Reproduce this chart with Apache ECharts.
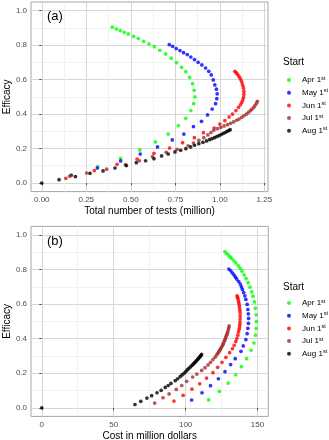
<!DOCTYPE html>
<html>
<head>
<meta charset="utf-8">
<script src="https://cdn.jsdelivr.net/npm/echarts@6/dist/echarts.min.js"></script>
<style>
  html, body { margin: 0; padding: 0; background: #fff; }
  #chart { width: 329px; height: 440px; }
</style>
</head>
<body>
<div id="chart"></div>
<script>
// series names (legend)
var startNames = ['Apr 1st', 'May 1st', 'Jun 1st', 'Jul 1st', 'Aug 1st'];
var startColors = ['#00ff00', '#0000ff', '#ff0000', '#a52a2a', '#000000'];

// Apr 1st
var aprEff = [0.046,0.095,0.143,0.191,0.238,0.284,0.333,0.375,0.420,0.460,0.499,0.538,0.576,0.613,0.646,0.671,0.698,0.724,0.749,0.770,0.791,0.807,0.822,0.838,0.851,0.865,0.874,0.884,0.894,0.904];
var aprTests = [0.168,0.314,0.443,0.551,0.638,0.710,0.767,0.809,0.837,0.853,0.860,0.856,0.847,0.830,0.809,0.785,0.757,0.727,0.696,0.663,0.632,0.602,0.572,0.542,0.516,0.486,0.463,0.441,0.419,0.396];
var aprCost = [116.0,123.5,129.6,134.8,138.8,142.4,145.5,147.5,148.6,149.1,149.2,149.0,148.5,147.8,146.9,146.0,144.8,143.5,142.0,140.7,139.2,138.0,136.6,135.0,133.6,132.0,130.9,129.7,128.5,127.3];

// May 1st
var mayEff = [0.045,0.087,0.128,0.168,0.209,0.250,0.284,0.327,0.358,0.395,0.429,0.460,0.489,0.517,0.544,0.569,0.598,0.627,0.648,0.667,0.685,0.700,0.716,0.731,0.745,0.756,0.768,0.780,0.793,0.803];
var mayTests = [0.164,0.312,0.443,0.553,0.650,0.733,0.798,0.852,0.897,0.931,0.957,0.976,0.983,0.985,0.981,0.972,0.963,0.952,0.938,0.920,0.899,0.878,0.858,0.837,0.817,0.796,0.776,0.755,0.735,0.716];
var mayCost = [104.2,111.4,117.3,122.8,127.4,131.3,134.5,138.5,140.1,141.9,142.8,143.3,143.7,143.8,143.6,143.3,142.8,141.9,141.2,140.4,139.5,138.8,138.0,136.9,135.6,134.7,133.7,132.6,131.4,130.1];

// Jun 1st
var junEff = [0.039,0.072,0.108,0.139,0.172,0.203,0.234,0.263,0.292,0.319,0.342,0.362,0.383,0.400,0.420,0.439,0.454,0.468,0.482,0.497,0.515,0.532,0.550,0.565,0.580,0.594,0.607,0.619,0.631,0.640,0.648];
var junTests = [0.157,0.295,0.423,0.535,0.630,0.718,0.791,0.857,0.908,0.968,1.000,1.028,1.052,1.071,1.090,1.105,1.116,1.123,1.129,1.133,1.135,1.135,1.133,1.129,1.125,1.120,1.114,1.107,1.099,1.092,1.084];
var junCost = [91.9,98.3,104.4,109.8,114.6,119.0,122.3,125.3,128.0,130.6,132.6,133.8,134.9,135.6,136.3,136.8,137.2,137.5,137.7,137.8,137.9,137.9,137.9,137.7,137.5,137.3,137.0,136.8,136.4,136.1,135.8];

// Jul 1st
var julEff = [0.027,0.058,0.080,0.106,0.129,0.153,0.178,0.195,0.216,0.232,0.248,0.263,0.279,0.293,0.306,0.315,0.323,0.331,0.338,0.346,0.354,0.364,0.371,0.381,0.391,0.400,0.410,0.420,0.429,0.439,0.451,0.463,0.474];
var julTests = [0.135,0.252,0.364,0.470,0.548,0.622,0.699,0.760,0.822,0.852,0.882,0.910,0.933,0.950,0.966,0.987,1.006,1.024,1.043,1.060,1.077,1.094,1.108,1.123,1.136,1.150,1.161,1.172,1.181,1.191,1.198,1.206,1.211];
var julCost = [78.5,84.3,88.5,93.5,97.3,100.7,104.9,107.8,111.2,113.5,115.6,117.3,119.0,120.5,121.6,122.4,123.0,123.6,124.1,124.6,125.2,125.8,126.2,126.7,127.2,127.6,128.0,128.5,128.9,129.3,129.7,130.0,130.3];

// Aug 1st (first point is the origin)
var augEff = [0,0.019,0.037,0.056,0.070,0.087,0.101,0.118,0.129,0.141,0.157,0.168,0.180,0.190,0.199,0.209,0.219,0.228,0.236,0.244,0.251,0.257,0.263,0.269,0.275,0.281,0.287,0.293,0.299,0.304,0.309];
var augTests = [0,0.097,0.189,0.271,0.344,0.411,0.475,0.531,0.583,0.630,0.673,0.710,0.748,0.780,0.809,0.836,0.858,0.882,0.905,0.925,0.942,0.956,0.970,0.983,0.995,1.007,1.018,1.029,1.040,1.050,1.058];
var augCost = [0,64.8,68.8,73.1,76.4,80.1,83.0,85.8,87.9,89.8,92.8,94.5,96.2,97.5,98.8,100.1,101.1,102.2,103.3,104.3,105.1,105.8,106.5,107.2,107.8,108.4,109.0,109.7,110.3,110.7,111.1];

// tick labels
var testTicks = [0, 0.25, 0.5, 0.75, 1.0, 1.25];
var testMinor = [0.125, 0.375, 0.625, 0.875, 1.125];
var costTicks = [0, 50, 100, 150];
var costMinor = [25, 75, 125];
var effTicks = [0, 0.2, 0.4, 0.6, 0.8, 1.0];
var effMinor = [0.1, 0.3, 0.5, 0.7, 0.9];

var effAll = [aprEff, mayEff, junEff, julEff, augEff];
var testsAll = [aprTests, mayTests, junTests, julTests, augTests];
var costAll = [aprCost, mayCost, junCost, julCost, augCost];

var FONT = 'Arial, "Liberation Sans", sans-serif';

function zip(xs, ys) {
    var out = [];
    for (var i = 0; i < xs.length; i++) out.push([xs[i], ys[i]]);
    return out;
}

function mainAxis(grid, min, max, ticks, fmt, name, gap, noMove) {
    return {
        type: 'value', gridIndex: grid, min: min, max: max,
        name: name, nameLocation: 'middle', nameGap: gap,
        nameMoveOverlap: !noMove,
        nameTextStyle: { color: '#000', fontSize: 10, fontFamily: FONT },
        axisLine: { show: false },
        axisTick: { show: true, length: 2.5, customValues: ticks, lineStyle: { color: '#333', width: 0.8 } },
        axisLabel: { customValues: ticks, formatter: fmt, color: '#4d4d4d', fontSize: 8, fontFamily: FONT, margin: 4 },
        splitLine: { show: true, lineStyle: { color: '#d6d6d6', width: 1 } }
    };
}
function minorAxis(grid, min, max, ticks, pos) {
    return {
        type: 'value', gridIndex: grid, min: min, max: max, position: pos,
        axisLine: { show: false },
        axisTick: { show: false, customValues: ticks },
        axisLabel: { show: false },
        splitLine: { show: true, lineStyle: { color: '#ececec', width: 0.7 } }
    };
}

var chart = echarts.init(document.getElementById('chart'));

var series = [];
for (var i = 0; i < startNames.length; i++) {
    series.push({
        name: startNames[i], type: 'scatter', xAxisIndex: 0, yAxisIndex: 0,
        symbolSize: 3.7, itemStyle: { color: startColors[i] },
        data: zip(testsAll[i], effAll[i])
    });
    series.push({
        name: startNames[i], type: 'scatter', xAxisIndex: 2, yAxisIndex: 2,
        symbolSize: 3.7, itemStyle: { color: startColors[i] },
        data: zip(costAll[i], effAll[i])
    });
}

function legendAt(top) {
    return {
        data: startNames, orient: 'vertical', left: 287, top: top, padding: 0,
        icon: 'circle', itemWidth: 4, itemHeight: 4, itemGap: 3.7,
        selectedMode: false,
        formatter: function (n) {
            var p = n.split(' ');
            return '{b|' + p[0] + ' ' + p[1].charAt(0) + '}{s|' + p[1].slice(1) + '}';
        },
        textStyle: {
            fontFamily: FONT, color: '#000', padding: [0, 0, 0, 6],
            rich: {
                b: { fontSize: 8, fontFamily: FONT, color: '#000' },
                s: { fontSize: 5.5, verticalAlign: 'top', fontFamily: FONT, color: '#000', padding: [0, 0, 4, 0] }
            }
        }
    };
}

function label(txt, x, y, size) {
    return { type: 'text', left: x, top: y,
        style: { text: txt, fontSize: size, fontFamily: 'Arial', fill: '#000' } };
}

chart.setOption({
    animation: false,
    textStyle: { fontFamily: FONT },
    grid: [
        { left: 31, top: 2, width: 237, height: 189.6, show: true, outerBoundsMode: 'none', containLabel: false,
          borderColor: '#a6a6a6', borderWidth: 1, backgroundColor: '#fff' },
        { left: 31, top: 226.4, width: 237.3, height: 190, show: true, outerBoundsMode: 'none', containLabel: false,
          borderColor: '#a6a6a6', borderWidth: 1, backgroundColor: '#fff' }
    ],
    xAxis: [
        mainAxis(0, -0.0605, 1.2705, testTicks, function (v) { return v.toFixed(2); }, 'Total number of tests (million)', 14.5),
        minorAxis(0, -0.0605, 1.2705, testMinor, 'top'),
        mainAxis(1, -7.5, 157.5, costTicks, function (v) { return String(v); }, 'Cost in million dollars', 14.5),
        minorAxis(1, -7.5, 157.5, costMinor, 'top')
    ],
    yAxis: [
        mainAxis(0, -0.05, 1.05, effTicks, function (v) { return v.toFixed(1); }, 'Efficacy', 19, true),
        minorAxis(0, -0.05, 1.05, effMinor, 'right'),
        mainAxis(1, -0.05, 1.05, effTicks, function (v) { return v.toFixed(1); }, 'Efficacy', 19, true),
        minorAxis(1, -0.05, 1.05, effMinor, 'right')
    ],
    legend: [legendAt(75), legendAt(298)],
    graphic: [
        label('(a)', 47, 10, 13),
        label('(b)', 47, 235, 13),
        label('Start', 283, 57, 10),
        label('Start', 283, 282, 10)
    ],
    series: series
});
</script>
</body>
</html>
